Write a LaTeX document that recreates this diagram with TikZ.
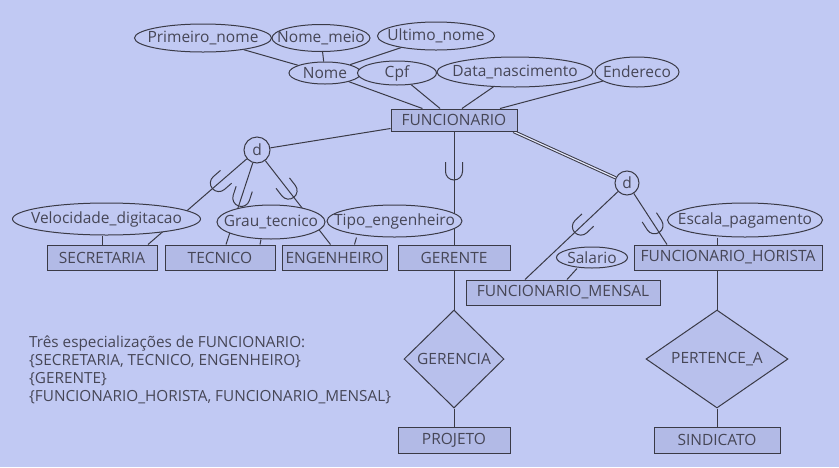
\documentclass[tikz,border=0pt]{standalone}
\usepackage{fontspec}
\setmainfont{Open Sans}
\usetikzlibrary{shapes.geometric,decorations.markings}

\definecolor{bgblue}{RGB}{193,201,243}
\definecolor{entfill}{RGB}{178,186,230}
\definecolor{relfill}{RGB}{184,192,236}
\definecolor{inkgray}{RGB}{58,58,70}
\definecolor{txtgray}{RGB}{70,70,86}

\pgfdeclarelayer{background}
\pgfdeclarelayer{edges}
\pgfsetlayers{background,edges,main}

\tikzset{
  erline/.style={draw=inkgray, line width=1pt},
  entity/.style={rectangle, erline, fill=entfill, text=txtgray, minimum height=25, inner sep=0pt},
  attrib/.style={ellipse, erline, fill=bgblue, text=txtgray, inner xsep=-20pt, inner ysep=-4pt},
  rel/.style={diamond, erline, fill=relfill, text=txtgray, inner sep=0pt},
  disj/.style={circle, erline, fill=bgblue, text=txtgray, minimum size=25, inner sep=0pt},
  subsetmark/.style={postaction={decorate, decoration={markings,
    mark=at position #1 with {\draw[erline] (-9.5pt,-8.5pt) -- (0pt,-8.5pt)
      arc[start angle=-90, end angle=90, radius=8.5pt] -- (-9.5pt,8.5pt);}}}},
}

\begin{document}
\begin{tikzpicture}[x=1pt, y=-1pt, font=\fontsize{15.5}{18}\selectfont]
\begin{pgfonlayer}{background}
  \fill[bgblue] (0,0) rectangle (839,467);
\end{pgfonlayer}
\useasboundingbox (0,0) rectangle (839,467);

% atributos de FUNCIONARIO
\node[attrib, minimum width=137, minimum height=28] (primeiro) at (203,38) {Primeiro\_nome};
\node[attrib, minimum width=98, minimum height=27] (meio) at (321,38) {Nome\_meio};
\node[attrib, minimum width=117, minimum height=28] (ultimo) at (436,36) {Ultimo\_nome};
\node[attrib, minimum width=72, minimum height=22] (nome) at (325,73) {Nome};
\node[attrib, minimum width=79, minimum height=24] (cpf) at (397,73) {Cpf};
\node[attrib, minimum width=156, minimum height=30] (datanasc) at (515,72) {Data\_nascimento};
\node[attrib, minimum width=84, minimum height=30] (endereco) at (637,72) {Endereco};

\node[entity, minimum width=126, minimum height=22] (funcionario) at (454,120) {FUNCIONARIO};

% circulos de disjuncao
\node[disj, minimum size=26] (d1) at (257,150) {d};
\node[disj, minimum size=24] (d2) at (627,183) {d};

% subclasses
\node[entity, minimum width=110] (secretaria) at (102,257.5) {SECRETARIA};
\node[entity, minimum width=110] (tecnico) at (220,257.5) {TECNICO};
\node[entity, minimum width=105] (engenheiro) at (334.5,257.5) {ENGENHEIRO};
\node[entity, minimum width=112] (gerente) at (454,257.5) {GERENTE};
\node[entity, minimum width=188] (horista) at (728,257.5) {FUNCIONARIO\_HORISTA};
\node[entity, minimum width=194] (mensal) at (563,292.5) {FUNCIONARIO\_MENSAL};

% atributos locais
\node[attrib, minimum width=188, minimum height=32] (velocidade) at (106.5,219) {Velocidade\_digitacao};
\node[attrib, minimum width=108, minimum height=34] (grau) at (271,222) {Grau\_tecnico};
\node[attrib, minimum width=135, minimum height=32] (tipo) at (394.5,221) {Tipo\_engenheiro};
\node[attrib, minimum width=155, minimum height=34] (escala) at (745,220) {Escala\_pagamento};
\node[attrib, minimum width=71, minimum height=21] (salario) at (592,257.5) {Salario};

% relacionamentos
\node[rel, aspect=1.02, minimum width=100, minimum height=98] (gerencia) at (454,359) {GERENCIA};
\node[rel, aspect=1.45, minimum width=142, minimum height=98] (pertence) at (717,359) {PERTENCE\_A};
\node[entity, minimum width=112, minimum height=26] (projeto) at (454,440) {PROJETO};
\node[entity, minimum width=126, minimum height=26] (sindicato) at (717,440) {SINDICATO};

\node[anchor=north west, align=left, text=txtgray, inner sep=0pt,
  font=\fontsize{15.3}{18}\selectfont] (legenda) at (29,336)
  {Três especializações de FUNCIONARIO:\\
   \{SECRETARIA, TECNICO, ENGENHEIRO\}\\
   \{GERENTE\}\\
   \{FUNCIONARIO\_HORISTA, FUNCIONARIO\_MENSAL\}};

\begin{pgfonlayer}{edges}
  % atributos compostos
  \draw[erline] (primeiro) -- (nome);
  \draw[erline] (meio) -- (nome);
  \draw[erline] (ultimo) -- (nome);
  \draw[erline] (nome) -- (funcionario);
  \draw[erline] (cpf) -- (funcionario);
  \draw[erline] (datanasc) -- ([xshift=8]funcionario.north);
  \draw[erline] (endereco) -- ([xshift=46]funcionario.north);

  % especializacao disjunta 1
  \draw[erline] ([yshift=3]funcionario.south west) -- (d1);
  \draw[erline, subsetmark=37pt] (d1) -- ([xshift=46]secretaria.north);
  \draw[erline, subsetmark=37pt] (d1) -- ([xshift=6]tecnico.north);
  \draw[erline, subsetmark=38pt] (d1) -- ([xshift=-4]engenheiro.north);

  % GERENTE
  \draw[erline, subsetmark=40pt] (funcionario.south) -- (gerente.north);

  % especializacao disjunta 2 (total)
  \draw[erline, double=white!55!bgblue, double distance=1.2pt]
    ([xshift=-4]funcionario.south east) -- (d2);
  \draw[erline, subsetmark=51pt] (d2) -- ([xshift=-38]mensal.north);
  \draw[erline, subsetmark=38pt] (d2) -- ([xshift=-61]horista.north);

  % atributos locais
  \draw[erline] (secretaria.north) -- (secretaria.north |- velocidade.south);
  \draw[erline] ([xshift=-10]grau.south) -- ([xshift=40]tecnico.north);
  \draw[erline] ([xshift=-38]tipo.south) -- ([xshift=20]engenheiro.north);
  \draw[erline] ([xshift=-15]salario.south) -- ([xshift=4]mensal.north);
  \draw[erline] ([xshift=-28]escala.south) -- (sindicato |- horista.north);

  % relacionamentos
  \draw[erline] (gerente) -- (gerencia);
  \draw[erline] (gerencia) -- (projeto);
  \draw[erline] (sindicato |- horista.south) -- (pertence);
  \draw[erline] (pertence) -- (sindicato);
\end{pgfonlayer}
\end{tikzpicture}
\end{document}
